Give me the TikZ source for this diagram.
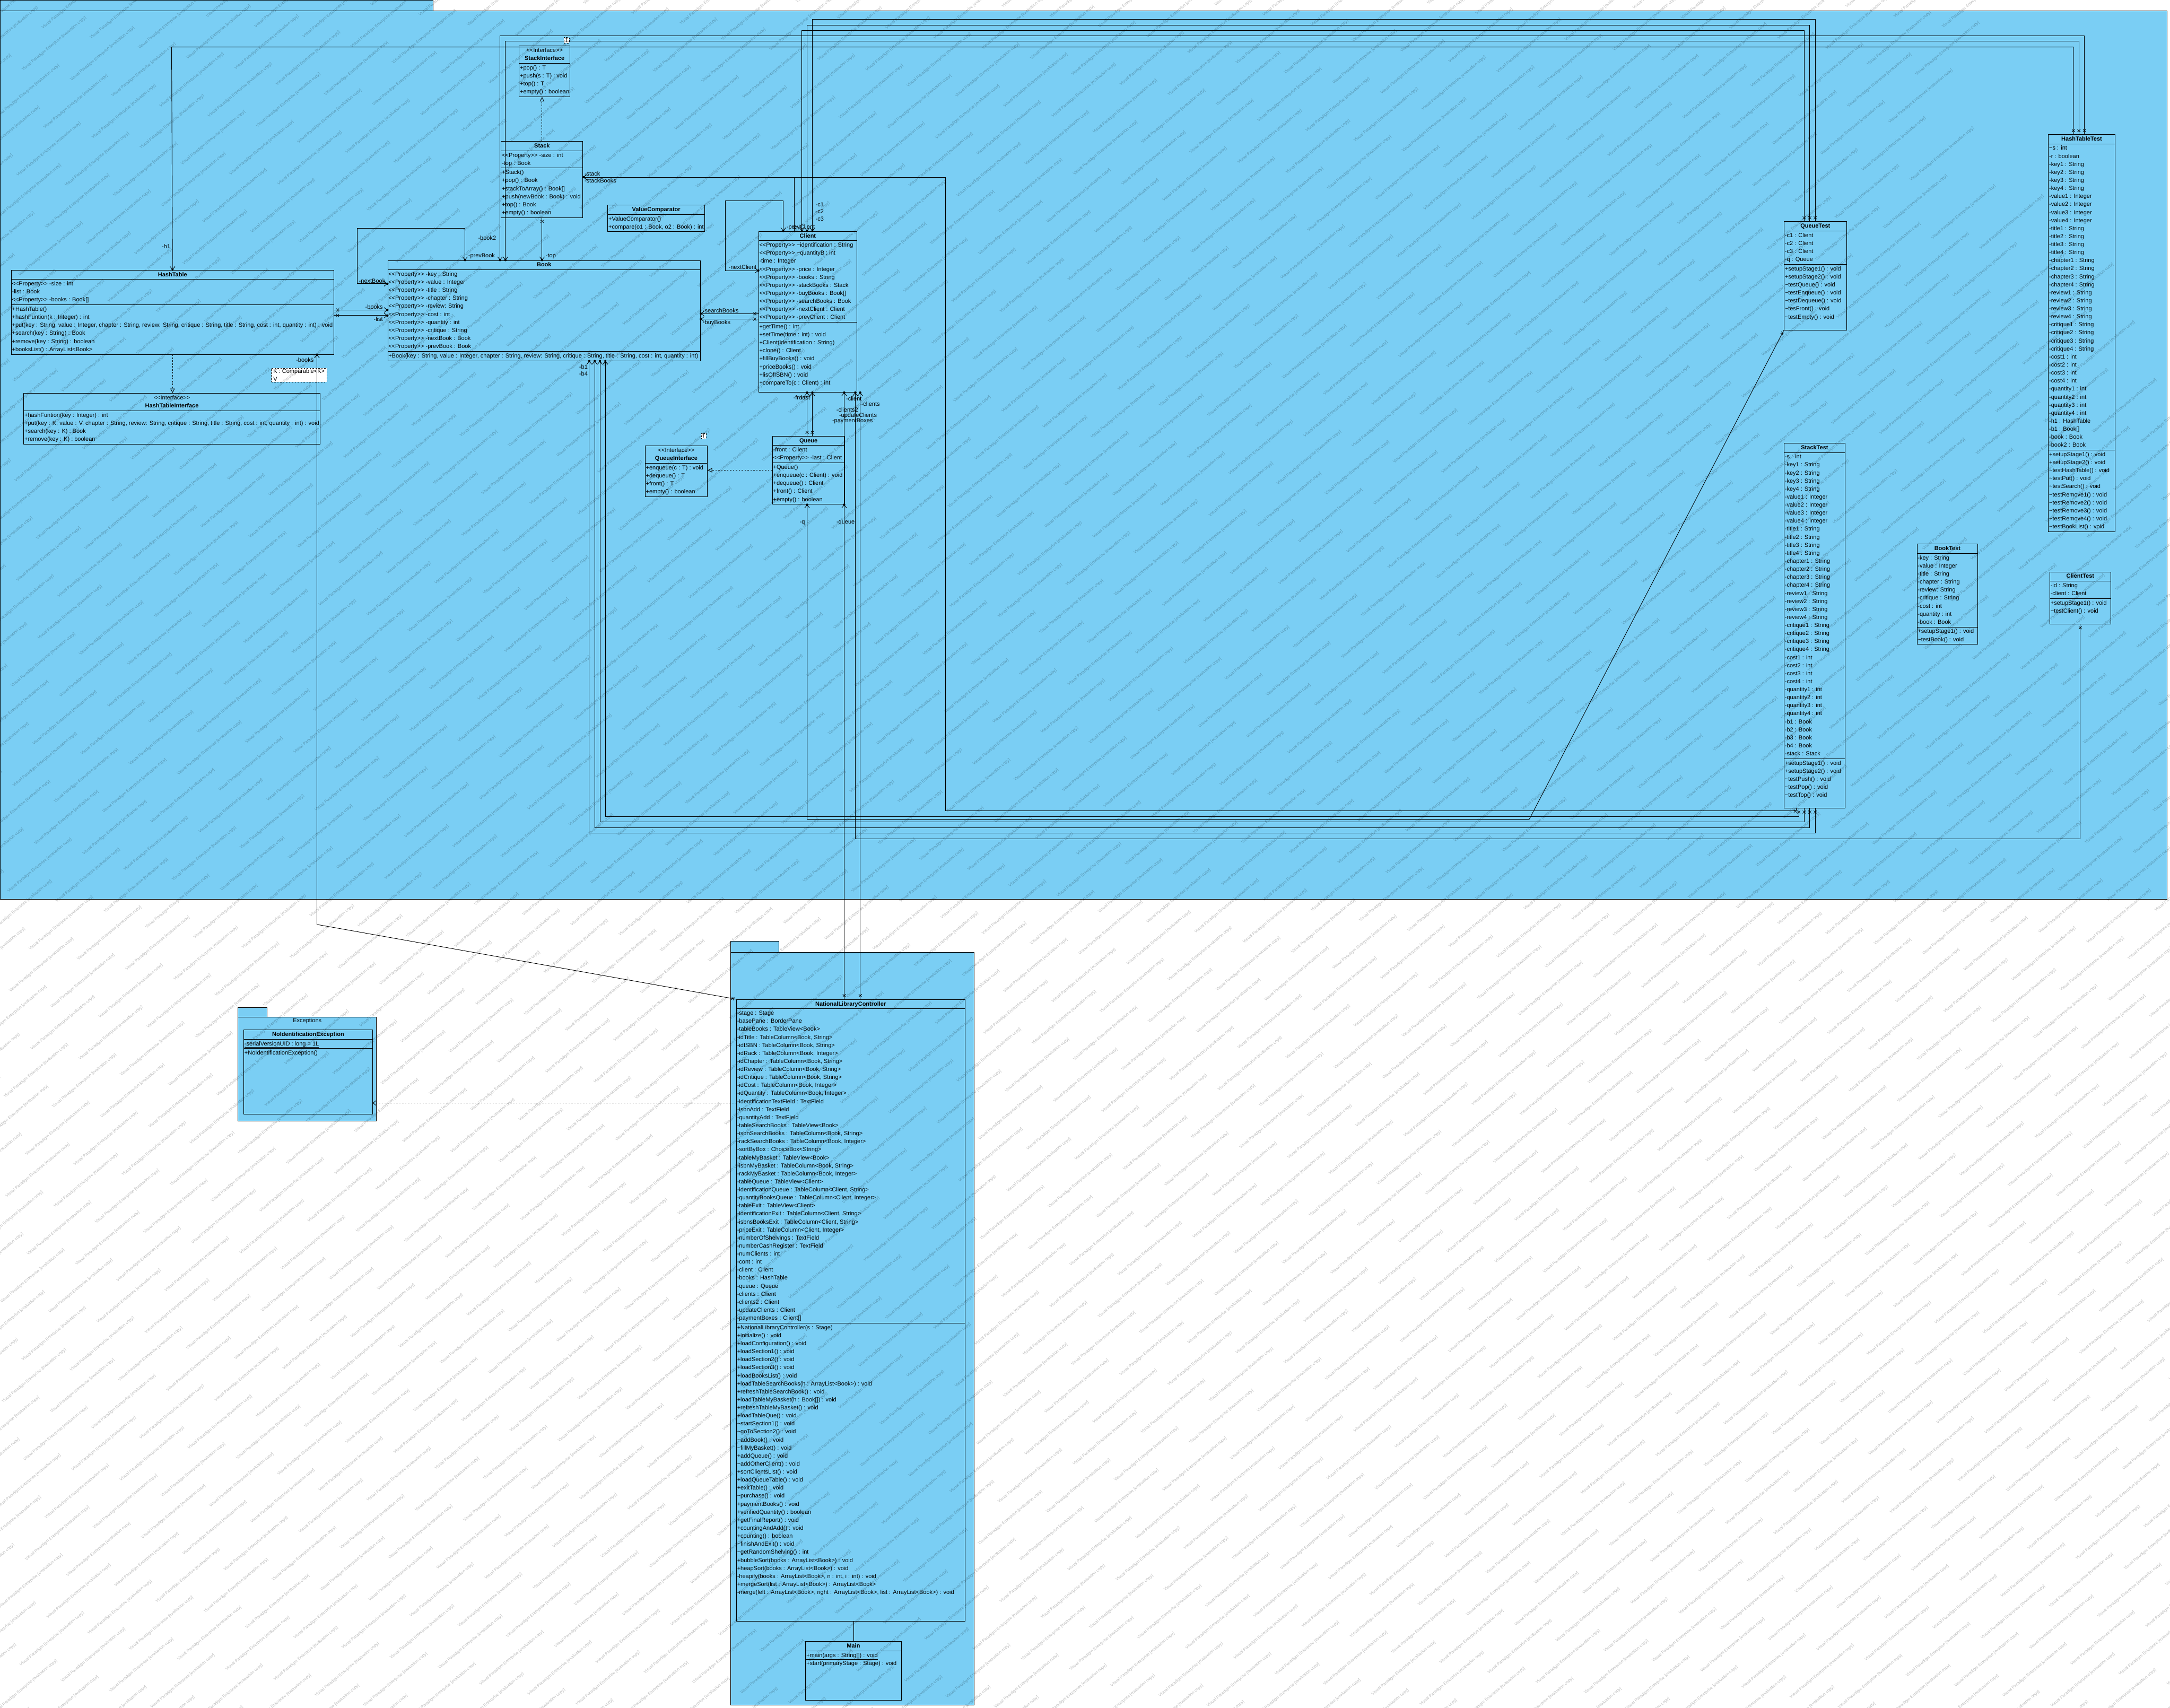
\documentclass[tikz,border=0pt]{standalone}
\usepackage{fontspec}
\setmainfont{Liberation Sans}[Ligatures=TeXOff]
\usetikzlibrary{positioning, arrows.meta, shapes.multipart, calc, decorations.markings}

\definecolor{vpblue}{RGB}{122,206,244}
\newcommand{\umlfont}{\fontsize{12pt}{16.5pt}\selectfont}
\newcommand{\tld}{\textasciitilde}
\newcommand{\pp}{<<Property>>\ }
\newcommand{\iface}[1]{\begin{tabular}{@{}c@{}}<<Interface>>\\\textbf{#1}\end{tabular}}
\newcommand{\wmtext}{Visual Paradigm Enterprise [evaluation copy]}
\newcommand{\wmrow}{\foreach \k in {1,...,31}{\wmtext\hspace*{30mm}}}

\begin{document}
\begin{tikzpicture}[
        x=1mm, y=-1mm,
        umlclass/.style={draw, fill=vpblue, line width=.35mm,
            rectangle split, rectangle split parts=3,
            rectangle split part align={center,left,left},
            minimum width=#1mm, align=left, font=\umlfont,
            inner xsep=.5mm, inner ysep=.3mm, anchor=north west},
        umliface/.style={umlclass=#1, rectangle split parts=2,
            rectangle split part align={center,left}},
        tparam/.style={draw, dashed, fill=white, font=\umlfont, align=left,
            inner sep=.5mm, anchor=north west},
        pkg/.style={draw, fill=vpblue, line width=.35mm},
        link/.style={line width=.35mm},
        realize/.style={link, dashed, -{Triangle[open, length=3.2mm, width=3.2mm]}},
        depend/.style={link, dashed, -{Straight Barb[length=2mm, width=3.4mm]}},
        navi/.style={link, -{Straight Barb[length=2.2mm, width=3.6mm]},
            postaction={decorate, decoration={markings,
                mark=at position -0.1pt with {\fill (0,0) circle (.8mm);}}}},
        xstart/.style={postaction={decorate, decoration={markings,
                mark=at position 2.6mm with {\draw[line width=.3mm, -]
                    (-1,-1.1) -- (1,1.1) (-1,1.1) -- (1,-1.1);}}}},
        role/.style={font=\umlfont, inner sep=.3mm},
        wmark/.style={transform shape, anchor=west, inner sep=0pt,
            font=\fontsize{8.5pt}{10pt}\selectfont, text=black, text opacity=.26},
    ]
    \useasboundingbox (0,0) rectangle (1568,1234);

    % =============================================
    % PACKAGES
    % =============================================
    \draw[pkg] (0,0) rectangle (313,8);
    \draw[pkg] (0,8) rectangle (1566,650);
    \draw[pkg] (528,680) rectangle (563,688);
    \draw[pkg] (528,688) rectangle (704,1232);
    \draw[pkg] (172,728) rectangle (193,735);
    \draw[pkg] (172,735) rectangle (272,810);
    \node[role, anchor=north] (exclabel) at (222,735.5) {Exceptions};

    % =============================================
    % CLASSES
    % =============================================
    \node[umlclass=233] (hashtable) at (8,195) {\strut\textbf{HashTable}
        \nodepart{two}\strut\pp-size : int\\-list : Book\\\pp-books : Book[]\strut
        \nodepart{three}\strut+HashTable()\\+hashFuntion(k : Integer) : int\\+put(key : String, value : Integer, chapter : String, review: String, critique : String, title : String, cost : int, quantity : int) : void\\+search(key : String) : Book\\+remove(key : String) : boolean\\+booksList() : ArrayList<Book>\strut};

    \node[umliface=213] (htiface) at (17,284) {\iface{HashTableInterface}
        \nodepart{two}\strut+hashFuntion(key : Integer) : int\\+put(key : K, value : V, chapter : String, review: String, critique : String, title : String, cost : int, quantity : int) : void\\+search(key : K) : Book\\+remove(key : K) : boolean\strut};
    \node[tparam, minimum width=40mm] (htitp) at (196,266) {K : Comparable<K>\\V};

    \node[umliface=35] (stackiface) at (375,33) {\iface{StackInterface}
        \nodepart{two}\strut+pop() : T\\+push(s : T) : void\\+top() : T\\+empty() : boolean\strut};
    \node[tparam] (sitp) at (407.5,27) {T};

    \node[umlclass=59] (stack) at (362,102) {\strut\textbf{Stack}
        \nodepart{two}\strut\pp-size : int\\-top : Book\strut
        \nodepart{three}\strut+Stack()\\+pop() : Book\\+stackToArray() : Book[]\\+push(newBook : Book) : void\\+top() : Book\\+empty() : boolean\strut};

    \node[umliface=70] (valcomp) at (439,148) {\strut\textbf{ValueComparator}
        \nodepart{two}\strut+ValueComparator()\\+compare(o1 : Book, o2 : Book) : int\strut};

    \node[umlclass=226] (book) at (280,188) {\strut\textbf{Book}
        \nodepart{two}\strut\pp-key : String\\\pp-value : Integer\\\pp-title : String\\\pp-chapter : String\\\pp-review: String\\\pp-cost : int\\\pp-quantity : int\\\pp-critique : String\\\pp-nextBook : Book\\\pp-prevBook : Book\strut
        \nodepart{three}\strut+Book(key : String, value : Integer, chapter : String, review: String, critique : String, title : String, cost : int, quantity : int)\strut};

    \node[umlclass=71] (client) at (548,167) {\strut\textbf{Client}
        \nodepart{two}\strut\pp\tld identification : String\\\pp\tld quantityB : int\\-time : Integer\\\pp-price : Integer\\\pp-books : String\\\pp-stackBooks : Stack\\\pp-buyBooks : Book[]\\\pp-searchBooks : Book\\\pp-nextClient : Client\\\pp-prevClient : Client\strut
        \nodepart{three}\strut+getTime() : int\\+setTime(time : int) : void\\+Client(identification : String)\\+clone() : Client\\+fillBuyBooks() : void\\+priceBooks() : void\\+lisOfISBN() : void\\+compareTo(c : Client) : int\strut\\[-2.6mm]\strut};

    \node[umliface=45] (qiface) at (466,322) {\iface{QueueInterface}
        \nodepart{two}\strut+enqueue(c : T) : void\\+dequeue() : T\\+front() : T\\+empty() : boolean\strut};
    \node[tparam] (qitp) at (506.5,313) {T};

    \node[umlclass=52] (queue) at (558,315) {\strut\textbf{Queue}
        \nodepart{two}\strut-front : Client\\\pp-last : Client\strut
        \nodepart{three}\strut+Queue()\\+enqueue(c : Client) : void\\+dequeue() : Client\\+front() : Client\\+empty() : boolean\strut};

    % tests
    \node[umlclass=45] (queuetest) at (1289,160) {\strut\textbf{QueueTest}
        \nodepart{two}\strut-c1 : Client\\-c2 : Client\\-c3 : Client\\-q : Queue\strut
        \nodepart{three}\strut+setupStage1() : void\\+setupStage2() : void\\\tld testQueue() : void\\\tld testEnqueue() : void\\\tld testDequeue() : void\\\tld tesFront() : void\\\tld testEmpty() : void\\\strut};

    \node[umlclass=48] (hashtest) at (1480,97) {\strut\textbf{HashTableTest}
        \nodepart{two}\strut\tld s : int\\-r : boolean\\-key1 : String\\-key2 : String\\-key3 : String\\-key4 : String\\-value1 : Integer\\-value2 : Integer\\-value3 : Integer\\-value4 : Integer\\-title1 : String\\-title2 : String\\-title3 : String\\-title4 : String\\-chapter1 : String\\-chapter2 : String\\-chapter3 : String\\-chapter4 : String\\-review1 : String\\-review2 : String\\-review3 : String\\-review4 : String\\-critique1 : String\\-critique2 : String\\-critique3 : String\\-critique4 : String\\-cost1 : int\\-cost2 : int\\-cost3 : int\\-cost4 : int\\-quantity1 : int\\-quantity2 : int\\-quantity3 : int\\-quantity4 : int\\-h1 : HashTable\\-b1 : Book[]\\-book : Book\\-book2 : Book\strut
        \nodepart{three}\strut+setupStage1() : void\\+setupStage2() : void\\\tld testHashTable() : void\\\tld testPut() : void\\\tld testSearch() : void\\\tld testRemove1() : void\\\tld testRemove2() : void\\\tld testRemove3() : void\\\tld testRemove4() : void\\\tld testBookList() : void\strut};

    \node[umlclass=44] (stacktest) at (1289,320) {\strut\textbf{StackTest}
        \nodepart{two}\strut-s : int\\-key1 : String\\-key2 : String\\-key3 : String\\-key4 : String\\-value1 : Integer\\-value2 : Integer\\-value3 : Integer\\-value4 : Integer\\-title1 : String\\-title2 : String\\-title3 : String\\-title4 : String\\-chapter1 : String\\-chapter2 : String\\-chapter3 : String\\-chapter4 : String\\-review1 : String\\-review2 : String\\-review3 : String\\-review4 : String\\-critique1 : String\\-critique2 : String\\-critique3 : String\\-critique4 : String\\-cost1 : int\\-cost2 : int\\-cost3 : int\\-cost4 : int\\-quantity1 : int\\-quantity2 : int\\-quantity3 : int\\-quantity4 : int\\-b1 : Book\\-b2 : Book\\-b3 : Book\\-b4 : Book\\-stack : Stack\strut
        \nodepart{three}\strut+setupStage1() : void\\+setupStage2() : void\\\tld testPush() : void\\\tld testPop() : void\\\tld testTop() : void\\\strut};

    \node[umlclass=44] (booktest) at (1385,393) {\strut\textbf{BookTest}
        \nodepart{two}\strut-key : String\\-value : Integer\\-title : String\\-chapter : String\\-review: String\\-critique : String\\-cost : int\\-quantity : int\\-book : Book\strut
        \nodepart{three}\strut+setupStage1() : void\\\tld testBook() : void\strut};

    \node[umlclass=44] (clienttest) at (1481,413) {\strut\textbf{ClientTest}
        \nodepart{two}\strut-id : String\\-client : Client\strut
        \nodepart{three}\strut+setupStage1() : void\\\tld testClient() : void\\\strut};

    % controller package
    \node[umlclass=165] (nlc) at (532,722) {\strut\textbf{NationalLibraryController}
        \nodepart{two}\strut-stage : Stage\\-basePane : BorderPane\\-tableBooks : TableView<Book>\\-idTitle : TableColumn<Book, String>\\-idISBN : TableColumn<Book, String>\\-idRack : TableColumn<Book, Integer>\\-idChapter : TableColumn<Book, String>\\-idReview : TableColumn<Book, String>\\-idCritique : TableColumn<Book, String>\\-idCost : TableColumn<Book, Integer>\\-idQuantity : TableColumn<Book, Integer>\\-identificationTextField : TextField\\-isbnAdd : TextField\\-quantityAdd : TextField\\-tableSearchBooks : TableView<Book>\\-isbnSearchBooks : TableColumn<Book, String>\\-rackSearchBooks : TableColumn<Book, Integer>\\-sortByBox : ChoiceBox<String>\\-tableMyBasket : TableView<Book>\\-isbnMyBasket : TableColumn<Book, String>\\-rackMyBasket : TableColumn<Book, Integer>\\-tableQueue : TableView<Client>\\-identificationQueue : TableColumn<Client, String>\\-quantityBooksQueue : TableColumn<Client, Integer>\\-tableExit : TableView<Client>\\-identificationExit : TableColumn<Client, String>\\-isbnsBooksExit : TableColumn<Client, String>\\-priceExit : TableColumn<Client, Integer>\\-numberOfShelvings : TextField\\-numberCashRegister : TextField\\-numClients : int\\-cont : int\\-client : Client\\-books : HashTable\\-queue : Queue\\-clients : Client\\-clients2 : Client\\-updateClients : Client\\-paymentBoxes : Client[]\strut
        \nodepart{three}\strut+NationalLibraryController(s : Stage)\\+initialize() : void\\+loadConfiguration() : void\\+loadSection1() : void\\+loadSection2() : void\\+loadSection3() : void\\+loadBooksList() : void\\+loadTableSearchBooks(h : ArrayList<Book>) : void\\+refreshTableSearchBook() : void\\+loadTableMyBasket(h : Book[]) : void\\+refreshTableMyBasket() : void\\+loadTableQue() : void\\\tld startSection1() : void\\\tld goToSection2() : void\\\tld addBook() : void\\\tld fillMyBasket() : void\\+addQueue() : void\\\tld addOtherClient() : void\\+sortClientsList() : void\\+loadQueueTable() : void\\+exitTable() : void\\\tld purchase() : void\\+paymentBooks() : void\\+verifiedQuantity() : boolean\\+getFinalReport() : void\\+countingAndAdd() : void\\+counting() : boolean\\\tld finishAndExit() : void\\\tld getRandomShelving() : int\\+bubbleSort(books : ArrayList<Book>) : void\\+heapSort(books : ArrayList<Book>) : void\\-heapify(books : ArrayList<Book>, n : int, i : int) : void\\+mergeSort(list : ArrayList<Book>) : ArrayList<Book>\\-merge(left : ArrayList<Book>, right : ArrayList<Book>, list : ArrayList<Book>) : void\\\mbox{}\\\mbox{}\\\strut};

    \node[umliface=69] (main) at (582,1186) {\strut\textbf{Main}
        \nodepart{two}\strut\underline{+main(args : String[]) : void}\\+start(primaryStage : Stage) : void\\\mbox{}\\\mbox{}\\\mbox{}\\\strut};

    \node[umlclass=93] (noid) at (176,744) {\strut\textbf{NoIdentificationException}
        \nodepart{two}\strut\underline{-serialVersionUID : long = 1L}\strut
        \nodepart{three}\strut+NoIdentificationException()\\\mbox{}\\\mbox{}\\\mbox{}\\\mbox{}\\\mbox{}\\\mbox{}\\\strut};

    % =============================================
    % CONNECTORS
    % =============================================
    \draw[realize] (hashtable.south) -- (hashtable.south |- htiface.north);
    \draw[realize] (stack.north) -- (stack.north |- stackiface.south);
    \draw[realize] (queue.west) -- (queue.west -| qiface.east);
    \coordinate (depy) at (0,797);
    \draw[depend] (nlc.west |- depy) -- (noid.east |- depy);
    \draw[link] (main.north) -- (main.north |- nlc.south);

    % NLC -books
    \coordinate (bkbend) at (229,668);
    \draw[navi, xstart] (nlc.north west) -- (bkbend) -- (bkbend |- hashtable.south);
    \node[role, anchor=north east] at (227,258) {-books};

    % HashTable -> Book
    \coordinate (hb1) at (260,224);
    \coordinate (hb2) at (260,228);
    \draw[navi, xstart] (hashtable.east |- hb1) -- (book.west |- hb1);
    \draw[navi, xstart] (hashtable.east |- hb2) -- (book.west |- hb2);
    \node[role, anchor=south east] at (277,223.5) {-books};
    \node[role, anchor=north east] at (277,228.5) {-list};

    % Book self loops
    \coordinate (nb1) at (258,205);
    \coordinate (nb2) at (336,165);
    \draw[navi] (nb2 |- book.north) -- (nb2) -- (nb1 |- nb2) -- (nb1) -- (book.west |- nb1);
    \draw[navi] (book.west |- nb1) -- (nb1) -- (nb1 |- nb2) -- (nb2) -- (nb2 |- book.north);
    \node[role, anchor=south west] at (259,205) {-nextBook};
    \node[role, anchor=south west] at (338,187.5) {-prevBook};

    % Stack -> Book
    \draw[navi, xstart] (stack.south) -- (stack.south |- book.north);
    \node[role, anchor=south west] at (394,187.5) {-top};

    % Client -> Book
    \coordinate (cb1) at (530,226.6);
    \coordinate (cb2) at (530,230.6);
    \draw[navi, xstart] (client.west |- cb1) -- (book.east |- cb1);
    \draw[navi, xstart] (client.west |- cb2) -- (book.east |- cb2);
    \node[role, anchor=south west] at (507.5,226.2) {-searchBooks};
    \node[role, anchor=north west] at (507.5,231) {-buyBooks};

    % Client self loops
    \coordinate (nc1) at (524,195.5);
    \coordinate (nc2) at (566,145);
    \draw[navi] (client.west |- nc1) -- (nc1) -- (nc1 |- nc2) -- (nc2) -- (nc2 |- client.north);
    \draw[navi] (nc2 |- client.north) -- (nc2) -- (nc1 |- nc2) -- (nc1) -- (client.west |- nc1);
    \node[role, anchor=south east] at (547,195) {-nextClient};
    \node[role, anchor=south west] at (568,166.5) {-prevClient};

    % Client -> Stack
    \coordinate (cs1) at (574,128);
    \draw[navi, xstart] (cs1 |- client.north) -- (cs1) -- (stack.east |- cs1);

    % Queue -> Client
    \coordinate (qc1) at (583.2,300);
    \coordinate (qc2) at (587,300);
    \draw[navi, xstart] (qc1 |- queue.north) -- (qc1 |- client.south);
    \draw[navi, xstart] (qc2 |- queue.north) -- (qc2 |- client.south);
    \node[role, anchor=north east] at (583.5,285.5) {-front};
    \node[role, anchor=north west] at (577,285.5) {-last};

    % NLC -> Queue, Client
    \coordinate (nq) at (610,700);
    \coordinate (ncl) at (621.6,700);
    \draw[navi, xstart] (nq |- nlc.north) -- (nq |- queue.south);
    \draw[navi] (nq |- queue.south) -- (nq |- client.south);
    \draw[navi, xstart] (ncl |- nlc.north) -- (ncl |- client.south);
    \node[role, anchor=north] at (611,376) {-queue};
    \node[role, anchor=north west] at (611,286) {-client};
    \node[role, anchor=north west] at (622,290) {-clients};
    \node[role, anchor=north west] at (604,294) {-clients2};
    \node[role, anchor=north west] at (606,298) {-updateClients};
    \node[role, anchor=north west] at (601,302) {-paymentBoxes};

    % StackTest -> Stack
    \coordinate (st1) at (683,128);
    \coordinate (st2) at (683,586);
    \draw[navi, xstart] (stacktest.south -| 1298,0) |- (st2) -- (st1) -- (stack.east |- st1);
    \node[role, anchor=south west] at (422,127.5) {-stack};
    \node[role, anchor=north west] at (422,128.5) {-stackBooks};

    % StackTest -> Book
    \foreach \i/\xx/\yy in {1/437.4/590, 2/433.5/594, 3/429.7/598, 4/425.8/602} {
        \coordinate (sb\i) at (\xx,\yy);
        \draw[navi, xstart] ($(stacktest.south)+(-15.5+\i*4,0)$) |- (sb\i) -- (sb\i |- book.south);
    }
    \node[role, anchor=north east] at (425,263) {-b1};
    \node[role, anchor=north east] at (425,268) {-b4};

    % QueueTest -> Client
    \foreach \i/\xx/\yy in {1/579.4/22, 2/583.2/18, 3/587/14} {
        \coordinate (qt\i) at (\xx,\yy);
        \draw[navi, xstart] ($(queuetest.north)+(-12+\i*4,0)$) |- (qt\i) -- (qt\i |- client.north);
        \node[role, anchor=west] at (589,143+\i*5) {-c\i};
    }
    % QueueTest -> Queue
    \coordinate (qq1) at (1105,592);
    \coordinate (qq2) at (583.2,592);
    \draw[navi, xstart] (queuetest.south west) -- (qq1) -- (qq2) -- (qq2 |- queue.south);
    \node[role, anchor=north east] at (582,376) {-q};

    % HashTableTest -> HashTable, Book
    \coordinate (ht1) at (124,34);
    \draw[navi, xstart] ($(hashtest.north)+(-6,0)$) |- (ht1) -- (hashtable.north);
    \node[role] at (120,178) {-h1};
    \coordinate (hb3) at (361.3,25.8);
    \coordinate (hb4) at (365.2,29.6);
    \draw[navi, xstart] ($(hashtest.north)+(2,0)$) |- (hb3) -- (hb3 |- book.north);
    \draw[navi, xstart] ($(hashtest.north)+(-2,0)$) |- (hb4) -- (hb4 |- book.north);
    \node[role] at (352,172) {-book2};

    % ClientTest -> Client
    \coordinate (ct1) at (618,606);
    \draw[navi, xstart] (clienttest.south) |- (ct1) -- (ct1 |- client.south);

    % =============================================
    % WATERMARK
    % =============================================
    \begin{scope}
        \clip (0,0) rectangle (1568,1234);
        \begin{scope}[x=1mm, y=1mm, shift={(0,-1234)}, rotate=40]
            \foreach \v in {-73,...,69} {
                \node[wmark] (wm\v) at ({-900 + mod(\v*37,96)}, {\v*14}) {\wmrow};
            }
        \end{scope}
    \end{scope}
\end{tikzpicture}
\end{document}
